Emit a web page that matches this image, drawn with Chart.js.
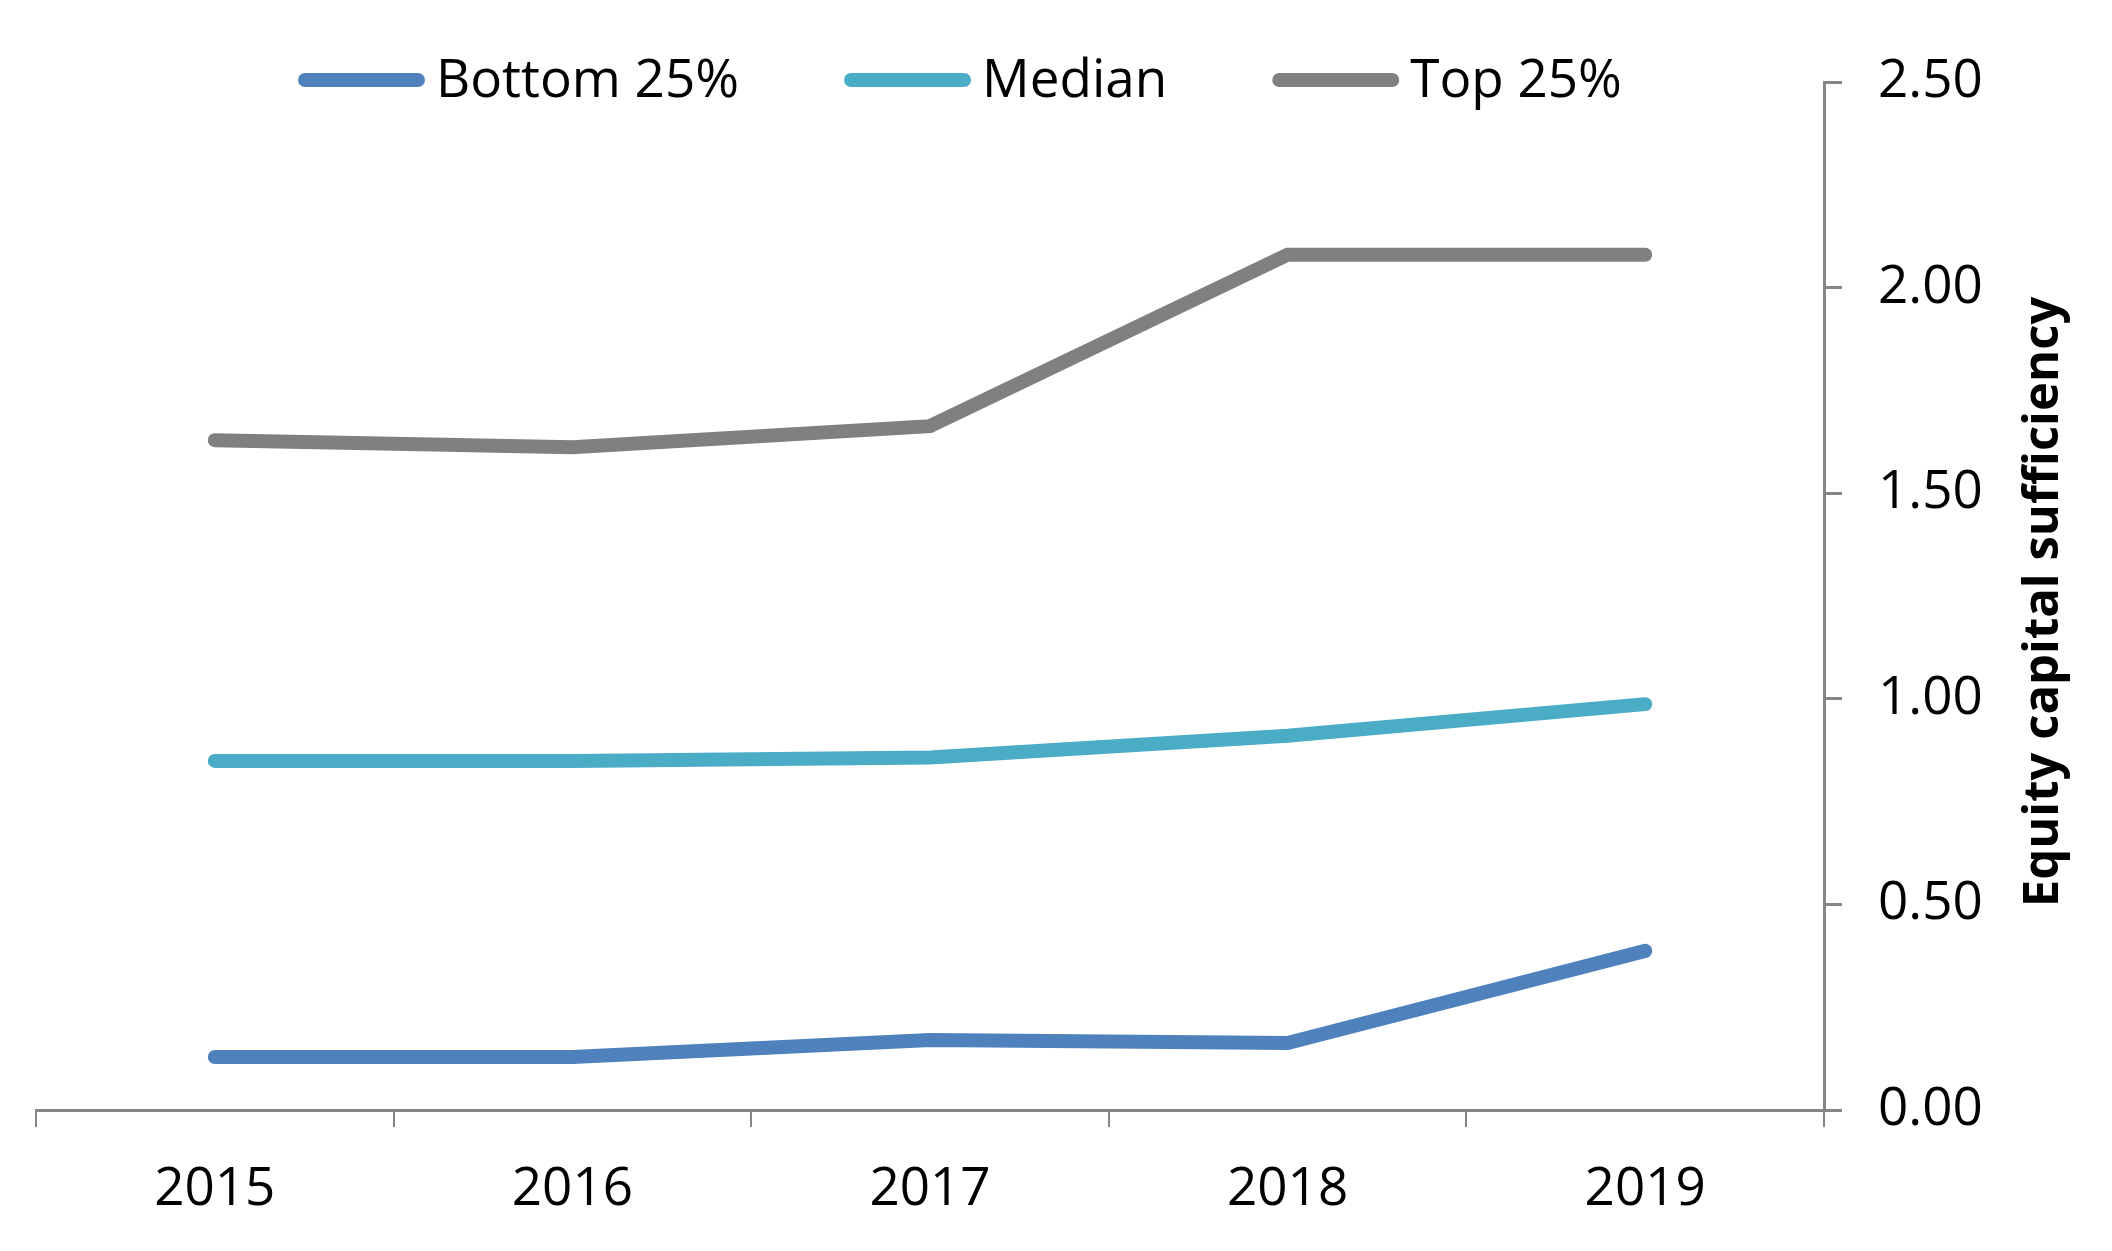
<!DOCTYPE html>
<html>
<head>
<meta charset="utf-8">
<script src="https://cdn.jsdelivr.net/npm/chart.js@4"></script>
<style>
  html, body { margin: 0; padding: 0; background: #ffffff; }
  #wrap { width: 2112px; height: 1251px; }
</style>
</head>
<body>
<div id="wrap"><canvas id="c" width="2112" height="1251"></canvas></div>
<script>
const categories = ['2015', '2016', '2017', '2018', '2019'];
const bottom25 = [0.129, 0.129, 0.170, 0.163, 0.387];
const median = [0.849, 0.849, 0.857, 0.910, 0.987];
const top25 = [1.629, 1.612, 1.663, 2.080, 2.080];
const seriesNames = ['Bottom 25%', 'Median', 'Top 25%'];
const seriesColors = ['#4F81BD', '#4BACC6', '#808080'];
const yTitle = 'Equity capital sufficiency';
const yMin = 0, yMax = 2.5, yStep = 0.5;

const FONT = '"Open Sans", "Noto Sans", sans-serif';
const AXIS_COLOR = '#868686';

const customLegend = {
  id: 'customLegend',
  afterDraw(chart) {
    const ctx = chart.ctx;
    ctx.save();
    ctx.font = '53px ' + FONT;
    ctx.textBaseline = 'middle';
    ctx.textAlign = 'left';
    let x = 298;
    const y = 80;
    chart.data.datasets.forEach(ds => {
      ctx.strokeStyle = ds.borderColor;
      ctx.lineWidth = 14;
      ctx.lineCap = 'round';
      ctx.beginPath();
      ctx.moveTo(x + 7, y);
      ctx.lineTo(x + 127 - 7, y);
      ctx.stroke();
      x += 127 + 11;
      ctx.fillStyle = '#000000';
      ctx.fillText(ds.label, x, y + 2);
      x += ctx.measureText(ds.label).width + 105;
    });
    ctx.restore();
  }
};

const rightTitle = {
  id: 'rightTitle',
  afterDraw(chart) {
    const ctx = chart.ctx;
    const area = chart.chartArea;
    ctx.save();
    ctx.font = 'bold 49px ' + FONT;
    ctx.fillStyle = '#000000';
    ctx.textAlign = 'center';
    ctx.textBaseline = 'middle';
    ctx.translate(2044, (area.top + area.bottom) / 2 + 6);
    ctx.rotate(-Math.PI / 2);
    ctx.fillText(yTitle, 0, 0);
    ctx.restore();
  }
};

function makeDataset(label, data, color) {
  return {
    label: label,
    data: data,
    borderColor: color,
    backgroundColor: color,
    borderWidth: 14,
    borderCapStyle: 'round',
    borderJoinStyle: 'miter',
    pointRadius: 0,
    pointHoverRadius: 0,
    tension: 0,
    fill: false
  };
}

function build() {
  new Chart(document.getElementById('c'), {
    type: 'line',
    data: {
      labels: categories,
      datasets: [
        makeDataset(seriesNames[0], bottom25, seriesColors[0]),
        makeDataset(seriesNames[1], median, seriesColors[1]),
        makeDataset(seriesNames[2], top25, seriesColors[2])
      ]
    },
    options: {
      responsive: false,
      devicePixelRatio: 1,
      animation: false,
      layout: { padding: { left: 36, right: 0, top: 82, bottom: 0 } },
      plugins: {
        legend: { display: false },
        tooltip: { enabled: false },
        title: { display: false }
      },
      scales: {
        x: {
          type: 'category',
          offset: true,
          grid: {
            offset: true,
            drawOnChartArea: false,
            drawTicks: true,
            tickLength: 17,
            color: AXIS_COLOR,
            lineWidth: 2
          },
          border: { display: true, color: AXIS_COLOR, width: 3 },
          ticks: {
            color: '#000000',
            font: { family: FONT, size: 53 },
            padding: 31,
            maxRotation: 0,
            autoSkip: false
          },
          afterFit(scale) { scale.height = 1251 - 1110; }
        },
        y: {
          position: 'right',
          min: yMin,
          max: yMax,
          grid: {
            drawOnChartArea: false,
            drawTicks: true,
            tickLength: 18,
            color: AXIS_COLOR,
            lineWidth: 3
          },
          border: { display: true, color: AXIS_COLOR, width: 3 },
          ticks: {
            stepSize: yStep,
            color: '#000000',
            font: { family: FONT, size: 53 },
            padding: 36,
            callback: v => Number(v).toFixed(2)
          },
          afterFit(scale) { scale.width = 2112 - 1824; }
        }
      }
    },
    plugins: [customLegend, rightTitle]
  });
}

Promise.all([
  document.fonts.load('53px "Open Sans"'),
  document.fonts.load('bold 49px "Open Sans"')
]).then(build, build);
</script>
</body>
</html>
